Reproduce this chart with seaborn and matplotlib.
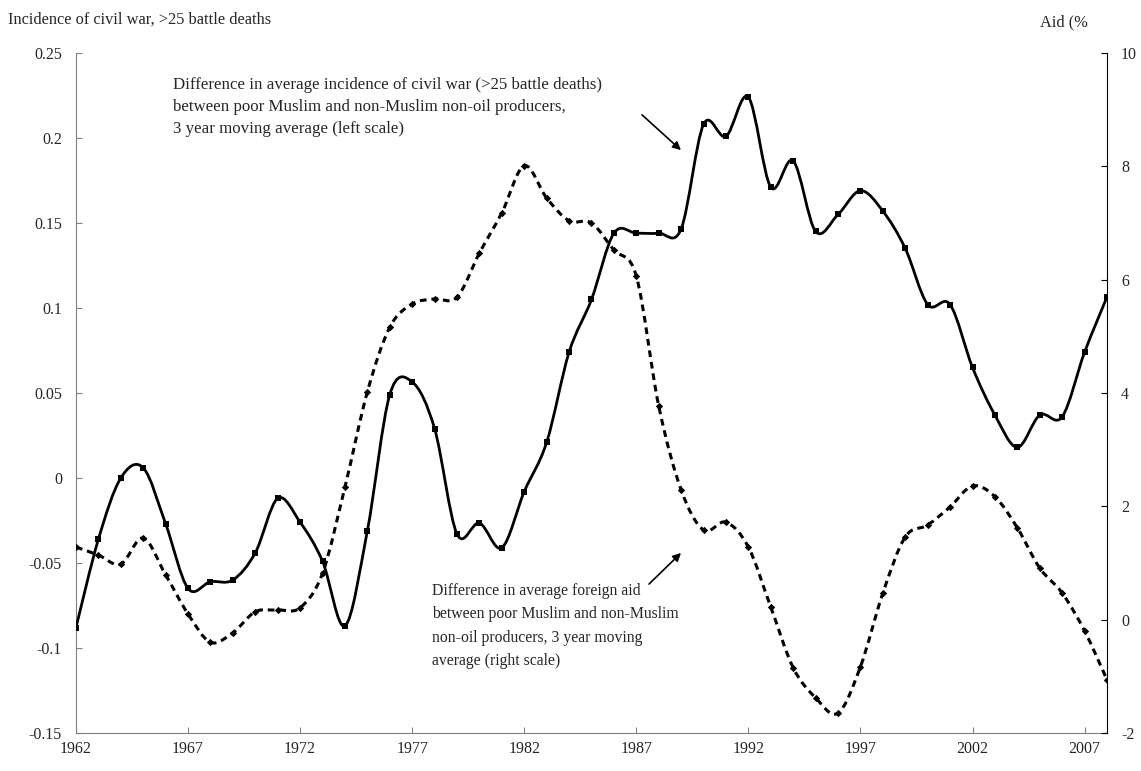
import numpy as np
import matplotlib
matplotlib.use("Agg")
import matplotlib.pyplot as plt
from matplotlib.path import Path
from matplotlib.patches import PathPatch
import seaborn as sns

# Data
years = list(range(1962, 2009))

civil_war = [-0.088, -0.036, 0.000, 0.006, -0.027, -0.065, -0.061, -0.060, -0.044, -0.012,
             -0.026, -0.049, -0.087, -0.031, 0.049, 0.0565, 0.029, -0.033, -0.0265, -0.041,
             -0.008, 0.021, 0.074, 0.105, 0.144, 0.144, 0.144, 0.1465, 0.208, 0.201,
             0.224, 0.171, 0.1865, 0.145, 0.155, 0.169, 0.157, 0.135, 0.102, 0.102,
             0.065, 0.037, 0.018, 0.037, 0.036, 0.074, 0.1065]

aid = [1.28, 1.14, 0.98, 1.44, 0.79, 0.10, -0.40, -0.23, 0.14, 0.17,
       0.21, 0.82, 2.34, 4.02, 5.16, 5.57, 5.66, 5.69, 6.47, 7.18,
       8.01, 7.44, 7.04, 7.00, 6.52, 6.06, 3.77, 2.29, 1.58, 1.72,
       1.28, 0.22, -0.85, -1.38, -1.65, -0.83, 0.47, 1.46, 1.67, 1.99,
       2.36, 2.17, 1.62, 0.91, 0.47, -0.20, -1.06]

left_ticks = [-0.15, -0.1, -0.05, 0, 0.05, 0.1, 0.15, 0.2, 0.25]
left_labels = ["-0.15", "-0.1", "-0.05", "0", "0.05", "0.1", "0.15", "0.2", "0.25"]
right_ticks = [-2, 0, 2, 4, 6, 8, 10]
x_ticks = list(range(1962, 2008, 5))


def smooth_path(xs, ys):
    # Excel-style smoothed line: cubic Bezier through every data point
    pts = np.column_stack([xs, ys]).astype(float)
    n = len(pts)
    verts = [pts[0]]
    codes = [Path.MOVETO]
    for i in range(n - 1):
        p0 = pts[i - 1] if i > 0 else pts[i]
        p1 = pts[i]
        p2 = pts[i + 1]
        p3 = pts[i + 2] if i + 2 < n else pts[i + 1]
        verts += [p1 + (p2 - p0) / 6, p2 - (p3 - p1) / 6, p2]
        codes += [Path.CURVE4] * 3
    return Path(verts, codes)


sns.set_style("white")
plt.rcParams["font.family"] = ["Liberation Serif", "DejaVu Serif"]
plt.rcParams["font.size"] = 12

fig = plt.figure(figsize=(11.41, 7.71), dpi=100)
ax = fig.add_axes([0.0666, 0.0493, 0.9036, 0.882])
ax2 = ax.twinx()

# aid series (right scale), dotted with diamonds
ax2.add_patch(PathPatch(smooth_path(years, aid), fill=False, edgecolor="black",
                        linewidth=2.2, linestyle=(0, (2.2, 1.6)), capstyle="butt"))
sns.scatterplot(x=years, y=aid, marker="D", s=14, color="black", linewidth=0, ax=ax2)

# civil war series (left scale), solid with squares
ax.add_patch(PathPatch(smooth_path(years, civil_war), fill=False, edgecolor="black",
                       linewidth=2.0, zorder=3))
sns.scatterplot(x=years, y=civil_war, marker="s", s=16, color="black", linewidth=0,
                ax=ax, zorder=4)

ax.set_xlim(1962, 2008)
ax.set_ylim(-0.15, 0.25)
ax2.set_ylim(-2, 10)

ax.set_xticks(x_ticks)
ax.set_xticklabels([str(y) for y in x_ticks])
ax.set_yticks(left_ticks)
ax.set_yticklabels(left_labels)
ax2.set_yticks(right_ticks)
ax2.set_yticklabels([str(t) for t in right_ticks])

ax.set_xlabel("")
ax.set_ylabel("")
ax2.set_ylabel("")
ax.grid(False)
ax2.grid(False)

for a in (ax, ax2):
    for s in a.spines.values():
        s.set_visible(False)
ax.spines["left"].set_visible(True)
ax.spines["bottom"].set_visible(True)
ax.spines["left"].set_color("#808080")
ax.spines["bottom"].set_color("#808080")
ax2.spines["right"].set_visible(True)
ax2.spines["right"].set_color("black")

ax.tick_params(axis="y", direction="in", length=4, color="#808080", pad=10,
               labelsize=11.5, left=True)
ax.tick_params(axis="x", direction="in", length=4, color="#808080", pad=6,
               labelsize=11.5, bottom=True)
ax2.tick_params(axis="y", direction="in", length=4, color="black", pad=10,
                labelsize=11.5, right=True)

fig.text(8 / 1141, 1 - 20 / 771, "Incidence of civil war, >25 battle deaths",
         ha="left", va="center", fontsize=11.8)
fig.text(1040 / 1141, 1 - 22 / 771, "Aid (%", ha="left", va="center", fontsize=11.8)

ax.annotate("Difference in average incidence of civil war (>25 battle deaths)\n"
            "between poor Muslim and non-Muslim non-oil producers,\n"
            "3 year moving average (left scale)",
            xy=(173 / 1141, 1 - 77 / 771), xycoords="figure fraction",
            ha="left", va="top", fontsize=12.2, linespacing=1.48)
ax.annotate("", xy=(683 / 1141, 1 - 152 / 771), xytext=(640 / 1141, 1 - 113 / 771),
            xycoords="figure fraction", textcoords="figure fraction",
            arrowprops=dict(arrowstyle="-|>", color="black", lw=1.2, mutation_scale=12))

ax.annotate("Difference in average foreign aid\n"
            "between poor Muslim and non-Muslim\n"
            "non-oil producers, 3 year moving\n"
            "average (right scale)",
            xy=(432 / 1141, 1 - 583 / 771), xycoords="figure fraction",
            ha="left", va="top", fontsize=11.3, linespacing=1.62)
ax.annotate("", xy=(683 / 1141, 1 - 551 / 771), xytext=(647 / 1141, 1 - 586 / 771),
            xycoords="figure fraction", textcoords="figure fraction",
            arrowprops=dict(arrowstyle="-|>", color="black", lw=1.2, mutation_scale=12))

fig.savefig("out.png", dpi=100)
